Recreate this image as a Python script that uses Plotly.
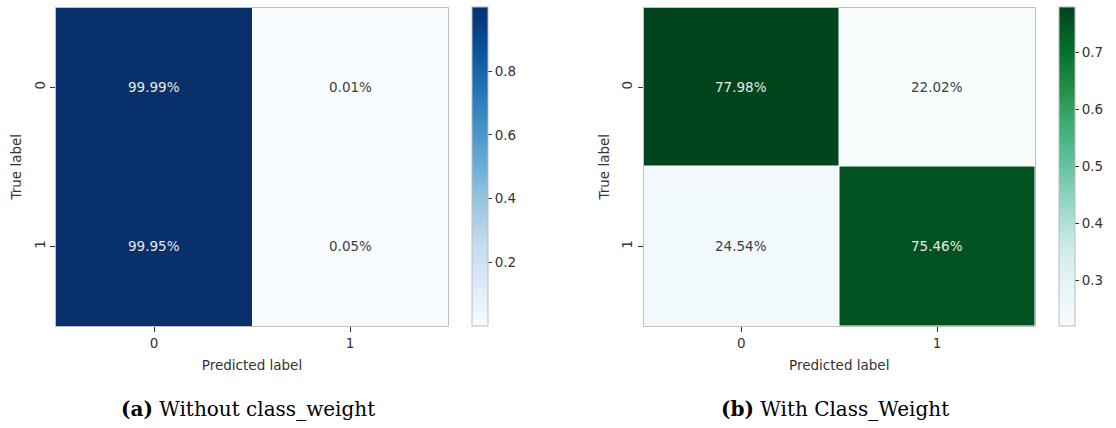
import plotly.graph_objects as go

# ---- data ----
pred_labels = [0, 1]
true_labels = [0, 1]
cm_without = [[0.9999, 0.0001], [0.9995, 0.0005]]
cm_with = [[0.7798, 0.2202], [0.2454, 0.7546]]
cbar_ticks_a = [0.2, 0.4, 0.6, 0.8]
cbar_ticks_b = [0.3, 0.4, 0.5, 0.6, 0.7]
captions = ["<b>(a)</b> Without class_weight", "<b>(b)</b> With Class_Weight"]

W, H = 1116, 428
def px_x(p): return p / W
def px_y(p): return 1 - p / H

ytop, ybot = 7.5, 326
ydom = [px_y(ybot), px_y(ytop)]
ycen = (ydom[0] + ydom[1]) / 2
ylen = ydom[1] - ydom[0]

fig = go.Figure()
tickfont = dict(family="DejaVu Sans", size=13.5, color="#333333")

panels = [
    dict(z=cm_without, cs="Blues", x0=56, x1=448, cbx=472, ticks=cbar_ticks_a, gap=0, ax="", cap=captions[0]),
    dict(z=cm_with, cs="BuGn", x0=643.5, x1=1035, cbx=1059, ticks=cbar_ticks_b, gap=1, ax="2", cap=captions[1]),
]

annotations = []
for p in panels:
    zflat = [v for row in p["z"] for v in row]
    zmin, zmax = min(zflat), max(zflat)
    fig.add_trace(go.Heatmap(
        z=p["z"], x=pred_labels, y=true_labels,
        colorscale=p["cs"], zmin=zmin, zmax=zmax,
        xgap=p["gap"], ygap=p["gap"],
        xaxis="x" + p["ax"], yaxis="y" + p["ax"],
        hoverinfo="skip",
        colorbar=dict(
            x=px_x(p["cbx"]), xanchor="left", xref="paper", xpad=0, ypad=0,
            y=ycen, yanchor="middle", len=ylen, lenmode="fraction",
            thickness=16, outlinecolor="#bbbbbb", outlinewidth=1,
            tickvals=p["ticks"], ticks="outside", ticklen=4, tickcolor="#333333",
            tickfont=dict(family="DejaVu Sans", size=13.5, color="#333333"),
        ),
    ))
    dom = [px_x(p["x0"]), px_x(p["x1"])]
    axkw = dict(showgrid=False, zeroline=False, showline=True, linecolor="#c0c0c0",
                mirror=True, ticks="outside", ticklen=5, tickcolor="#333333",
                tickfont=tickfont)
    fig.update_layout(**{
        "xaxis" + p["ax"]: dict(domain=dom, anchor="y" + p["ax"], tickvals=pred_labels,
                                title=dict(text="Predicted label", font=tickfont, standoff=10),
                                range=[-0.5, 1.5], **axkw),
        "yaxis" + p["ax"]: dict(domain=ydom, anchor="x" + p["ax"], tickvals=true_labels,
                                tickangle=-90, autorange="reversed",
                                title=dict(text="True label", font=tickfont, standoff=6),
                                **axkw),
    })
    for i, row in enumerate(p["z"]):
        for j, v in enumerate(row):
            frac = (v - zmin) / (zmax - zmin)
            annotations.append(dict(
                x=pred_labels[j], y=true_labels[i], xref="x" + p["ax"], yref="y" + p["ax"],
                text=f"{v*100:.2f}%", showarrow=False,
                font=dict(family="DejaVu Sans", size=13.5,
                          color="#e8e8e8" if frac > 0.5 else "#404040"),
            ))
    annotations.append(dict(
        x=(dom[0] + dom[1]) / 2 - px_x(4), y=px_y(409), xref="paper", yref="paper",
        text=p["cap"], showarrow=False, xanchor="center", yanchor="middle",
        font=dict(family="DejaVu Serif", size=20, color="#000000"),
    ))

fig.update_layout(
    width=W, height=H, margin=dict(l=0, r=0, t=0, b=0),
    paper_bgcolor="white", plot_bgcolor="white",
    annotations=annotations, showlegend=False,
)
fig.write_html(
    "out.html",
    config={"displayModeBar": False},
    post_script="document.body.style.margin='0';document.body.style.overflow='hidden';"
                "document.documentElement.style.overflow='hidden';",
)
